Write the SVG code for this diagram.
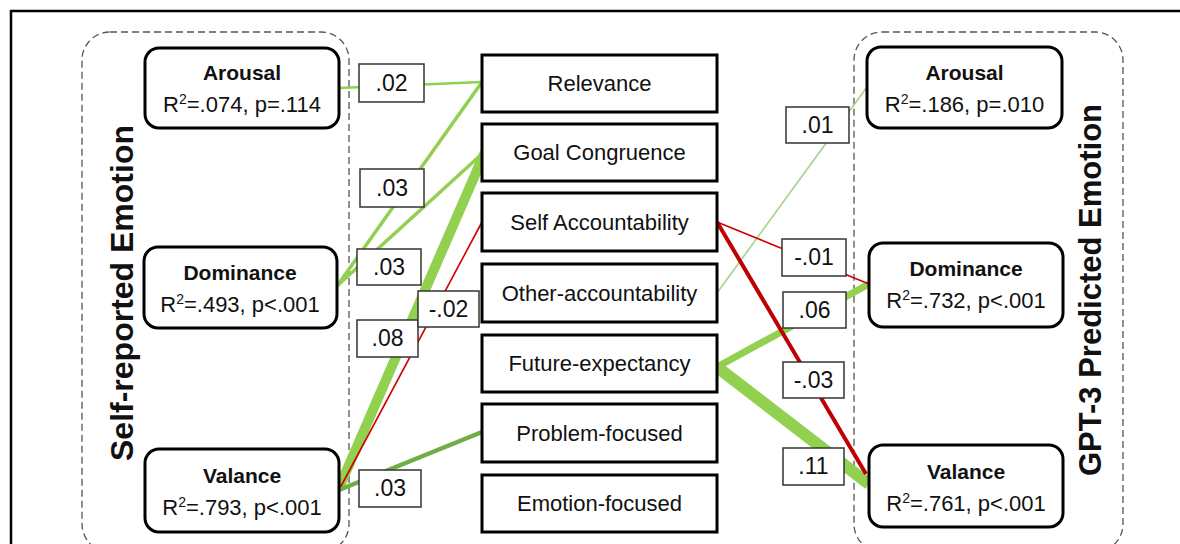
<svg xmlns="http://www.w3.org/2000/svg" width="1180" height="544" viewBox="0 0 1180 544">
<style>
  text { font-family: "Liberation Sans", Arial, sans-serif; fill: #111; }
  .frame { fill: none; stroke: #000; stroke-width: 2.5; }
  .group { fill: none; stroke: #555; stroke-width: 1.3; stroke-dasharray: 7 4; }
  .emo { fill: #fff; stroke: #000; stroke-width: 3; }
  .app { fill: #fff; stroke: #000; stroke-width: 3; }
  .lab { fill: #fff; stroke: #333; stroke-width: 1.5; }
  .title { font-size: 32px; font-weight: bold; }
  .name { font-size: 21px; font-weight: bold; }
  .stat { font-size: 22px; }
  .mid { font-size: 22px; }
  .num { font-size: 23px; }
  .c { stroke-linecap: butt; fill: none; }
  .g { stroke: #92D050; }
  .dg { stroke: #70AD47; }
  .lg { stroke: #A9D18E; }
  .r { stroke: #D00000; }
  .dr { stroke: #C00000; }
</style>
<rect class="frame" x="11" y="11" width="1200" height="600"/>
<g id="self-reported-group">
  <rect class="group" x="82" y="32" width="267" height="520" rx="28"/>
  <text class="title" transform="translate(133,293) rotate(-90)" text-anchor="middle">Self-reported Emotion</text>
</g>
<g id="gpt3-group">
  <rect class="group" x="854" y="32" width="269" height="520" rx="28"/>
  <text class="title" style="font-size:31px" transform="translate(1101,290) rotate(-90)" text-anchor="middle">GPT-3 Predicted Emotion</text>
</g>
<g id="connectors">
  <line class="c g" x1="339" y1="88" x2="482" y2="82" stroke-width="2.5"/>
  <line class="c g" x1="337" y1="286" x2="482" y2="82" stroke-width="3.5"/>
  <line class="c g" x1="337" y1="286" x2="483" y2="153" stroke-width="3.5"/>
  <line class="c g" x1="339" y1="488" x2="485" y2="152" stroke-width="10"/>
  <line class="c r" x1="339" y1="490" x2="482" y2="222" stroke-width="1.6"/>
  <line class="c dg" x1="339" y1="490" x2="482" y2="432" stroke-width="4.5"/>
  <line class="c lg" x1="717" y1="293" x2="867" y2="87" stroke-width="1.6"/>
  <line class="c g" x1="717" y1="367" x2="869" y2="284" stroke-width="7"/>
  <line class="c g" x1="717" y1="367" x2="869" y2="484" stroke-width="12"/>
  <line class="c r" x1="717" y1="222" x2="869" y2="284" stroke-width="1.6"/>
  <line class="c dr" x1="717" y1="222" x2="866" y2="474" stroke-width="4"/>
</g>
<g id="sr-arousal">
  <rect class="emo" x="145" y="48" width="194" height="80" rx="14"/>
  <text class="name" x="242" y="80" text-anchor="middle">Arousal</text>
  <text class="stat" x="242" y="112" text-anchor="middle">R<tspan font-size="14" dy="-8">2</tspan><tspan dy="8">=.074, p=.114</tspan></text>
</g>
<g id="sr-dominance">
  <rect class="emo" x="144" y="247" width="193" height="81" rx="14"/>
  <text class="name" x="240" y="280" text-anchor="middle">Dominance</text>
  <text class="stat" x="240" y="312" text-anchor="middle">R<tspan font-size="14" dy="-8">2</tspan><tspan dy="8">=.493, p&lt;.001</tspan></text>
</g>
<g id="sr-valance">
  <rect class="emo" x="145" y="449" width="194" height="83" rx="14"/>
  <text class="name" x="242" y="483" text-anchor="middle">Valance</text>
  <text class="stat" x="242" y="515" text-anchor="middle">R<tspan font-size="14" dy="-8">2</tspan><tspan dy="8">=.793, p&lt;.001</tspan></text>
</g>
<g id="relevance">
  <rect class="app" x="482" y="55" width="235" height="57"/>
  <text class="mid" x="599.5" y="91" text-anchor="middle">Relevance</text>
</g>
<g id="goal-congruence">
  <rect class="app" x="482" y="124" width="235" height="57"/>
  <text class="mid" x="599.5" y="160" text-anchor="middle">Goal Congruence</text>
</g>
<g id="self-accountability">
  <rect class="app" x="482" y="193" width="235" height="58"/>
  <text class="mid" x="599.5" y="230" text-anchor="middle">Self Accountability</text>
</g>
<g id="other-accountability">
  <rect class="app" x="482" y="264" width="235" height="58"/>
  <text class="mid" x="599.5" y="301" text-anchor="middle">Other-accountability</text>
</g>
<g id="future-expectancy">
  <rect class="app" x="482" y="335" width="235" height="57"/>
  <text class="mid" x="599.5" y="371" text-anchor="middle">Future-expectancy</text>
</g>
<g id="problem-focused">
  <rect class="app" x="482" y="404" width="235" height="58"/>
  <text class="mid" x="599.5" y="441" text-anchor="middle">Problem-focused</text>
</g>
<g id="emotion-focused">
  <rect class="app" x="482" y="475" width="235" height="57"/>
  <text class="mid" x="599.5" y="511" text-anchor="middle">Emotion-focused</text>
</g>
<g id="gpt-arousal">
  <rect class="emo" x="867" y="47" width="195" height="81" rx="14"/>
  <text class="name" x="964.5" y="80" text-anchor="middle">Arousal</text>
  <text class="stat" x="964.5" y="112" text-anchor="middle">R<tspan font-size="14" dy="-8">2</tspan><tspan dy="8">=.186, p=.010</tspan></text>
</g>
<g id="gpt-dominance">
  <rect class="emo" x="869" y="243" width="194" height="84" rx="14"/>
  <text class="name" x="966" y="276" text-anchor="middle">Dominance</text>
  <text class="stat" x="966" y="308" text-anchor="middle">R<tspan font-size="14" dy="-8">2</tspan><tspan dy="8">=.732, p&lt;.001</tspan></text>
</g>
<g id="gpt-valance">
  <rect class="emo" x="869" y="445" width="194" height="82" rx="14"/>
  <text class="name" x="966" y="479" text-anchor="middle">Valance</text>
  <text class="stat" x="966" y="511" text-anchor="middle">R<tspan font-size="14" dy="-8">2</tspan><tspan dy="8">=.761, p&lt;.001</tspan></text>
</g>
<g id="labels">
  <rect class="lab" x="359" y="64" width="65" height="38"/>
  <text class="num" x="391.5" y="91" text-anchor="middle">.02</text>
  <rect class="lab" x="360" y="169" width="64" height="38"/>
  <text class="num" x="392" y="196" text-anchor="middle">.03</text>
  <rect class="lab" x="357" y="249" width="64" height="36"/>
  <text class="num" x="389" y="275" text-anchor="middle">.03</text>
  <rect class="lab" x="357" y="320" width="61" height="37"/>
  <text class="num" x="387.5" y="346" text-anchor="middle">.08</text>
  <rect class="lab" x="418" y="291" width="61" height="36"/>
  <text class="num" x="448.5" y="317" text-anchor="middle">-.02</text>
  <rect class="lab" x="359" y="470" width="62" height="37"/>
  <text class="num" x="390" y="496" text-anchor="middle">.03</text>
  <rect class="lab" x="786" y="107" width="63" height="36"/>
  <text class="num" x="817.5" y="133" text-anchor="middle">.01</text>
  <rect class="lab" x="782" y="239" width="64" height="37"/>
  <text class="num" x="814" y="265" text-anchor="middle">-.01</text>
  <rect class="lab" x="783" y="292" width="63" height="36"/>
  <text class="num" x="814.5" y="318" text-anchor="middle">.06</text>
  <rect class="lab" x="783" y="362" width="61" height="36"/>
  <text class="num" x="813.5" y="388" text-anchor="middle">-.03</text>
  <rect class="lab" x="783" y="448" width="61" height="37"/>
  <text class="num" x="813.5" y="474" text-anchor="middle">.11</text>
</g>
</svg>
